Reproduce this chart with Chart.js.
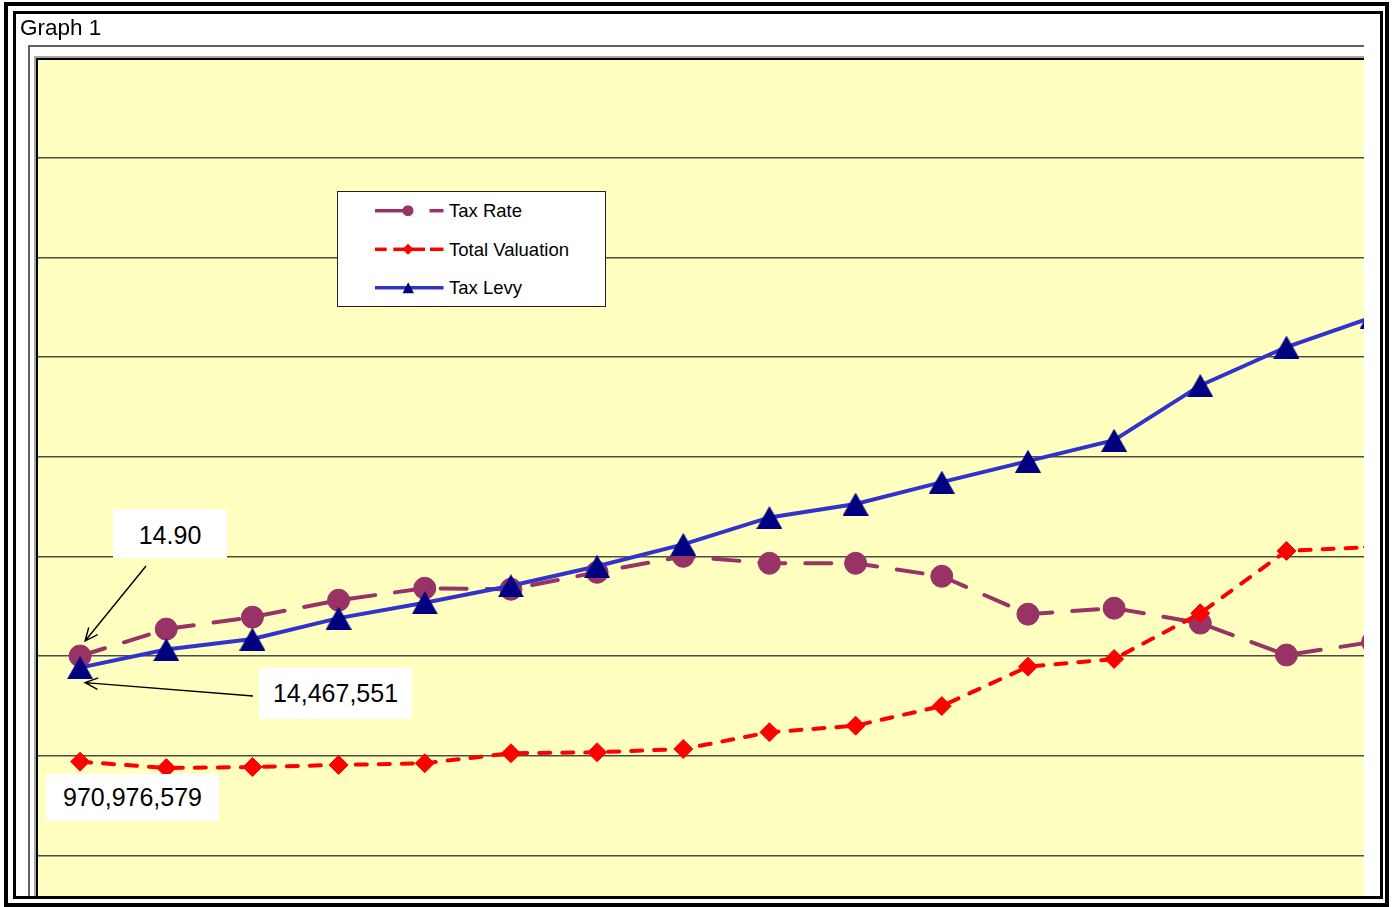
<!DOCTYPE html>
<html>
<head>
<meta charset="utf-8">
<title>Graph 1</title>
<script src="https://cdn.jsdelivr.net/npm/chart.js@4.4.0/dist/chart.umd.min.js"></script>
<style>
    body { margin: 0; background: #fff; font-family: "Liberation Sans", Arial, sans-serif; color: #000; }
    .abs { position: absolute; box-sizing: border-box; }
    #marcoExterior { left: 4px; top: 2px; width: 1385px; height: 905px; border: 4px solid #000; }
    #marcoInterior { left: 13px; top: 11px; width: 1370px; height: 888px; border: 3px solid #000; }
    #titulo { left: 20px; top: 17px; font-size: 22.5px; line-height: 1; white-space: nowrap; }
    #bordeGrafico { left: 28px; top: 45px; width: 1336px; height: 853px; border-top: 2px solid #606060; border-left: 2px solid #606060; }
    #halo { left: 34px; top: 56px; width: 1330px; height: 842px; border-top: 2px solid #a8a8a8; border-left: 2px solid #a8a8a8; }
    #areaTrazado { left: 36px; top: 58px; width: 1328px; height: 839px; overflow: hidden; background: #FFFFC0; }
    #contenedor { position: absolute; left: 1px; top: 0; width: 1327px; height: 897px; }
    #bordeSup { left: 36px; top: 58px; width: 1328px; height: 2px; background: #000; }
    #bordeIzq { left: 36px; top: 58px; width: 2px; height: 839px; background: #000; }
    .etiqueta { background: #fff; font-size: 25px; text-align: center; white-space: nowrap; }
    #leyenda { left: 337px; top: 191px; width: 269px; height: 116px; border: 1px solid #222; background: #fff; }
    #leyenda svg { position: absolute; left: 0; top: 0; }
    .textoLeyenda { font-size: 18.5px; line-height: 1; white-space: nowrap; }
</style>
</head>
<body>

<div id="bordeGrafico" class="abs"></div>
<div id="halo" class="abs"></div>
<div id="areaTrazado" class="abs">
    <div id="contenedor"><canvas id="grafico1" width="1327" height="897"></canvas></div>
</div>
<div id="bordeSup" class="abs"></div>
<div id="bordeIzq" class="abs"></div>

<div id="leyenda" class="abs">
    <svg width="267" height="114">
        <line x1="37" y1="18.7" x2="70" y2="18.7" stroke="#993366" stroke-width="3.5"/>
        <circle cx="70" cy="18.7" r="5.5" fill="#993366"/>
        <line x1="91.5" y1="18.7" x2="105.5" y2="18.7" stroke="#993366" stroke-width="3.5"/>
        <line x1="37" y1="57.3" x2="48.7" y2="57.3" stroke="#FF0000" stroke-width="3.5"/>
        <line x1="55.3" y1="57.3" x2="87" y2="57.3" stroke="#FF0000" stroke-width="3.5"/>
        <line x1="92" y1="57.3" x2="105.5" y2="57.3" stroke="#FF0000" stroke-width="3.5"/>
        <polygon points="64.5,57.3 70,51.8 75.5,57.3 70,62.8" fill="#FF0000"/>
        <line x1="37" y1="95.7" x2="105.5" y2="95.7" stroke="#3333CC" stroke-width="3.5"/>
        <polygon points="64.5,101.3 76,101.3 70.2,90.3" fill="#000080"/>
    </svg>
</div>
<div id="serie0" class="abs textoLeyenda" style="left:449px; top:201.5px;"></div>
<div id="serie1" class="abs textoLeyenda" style="left:449px; top:240.5px;"></div>
<div id="serie2" class="abs textoLeyenda" style="left:449px; top:279px;"></div>

<div id="etiquetaTasa" class="abs etiqueta" style="left:113px; top:509px; width:114px; height:49px; line-height:52px;"></div>
<div id="etiquetaRecaudacion" class="abs etiqueta" style="left:259px; top:668px; width:153px; height:51px; line-height:51px;"></div>
<div id="etiquetaValuacion" class="abs etiqueta" style="left:46px; top:774px; width:173px; height:47px; line-height:47px;"></div>

<div id="marcoInterior" class="abs"></div>
<div id="marcoExterior" class="abs"></div>
<div id="titulo" class="abs">Graph 1</div>

<script>
//DATOS DEL GRÁFICO: POSICIÓN DE CADA PERIODO Y VALORES DE LAS TRES SERIES.
const periodos = [0, 1, 2, 3, 4, 5, 6, 7, 8, 9, 10, 11, 12, 13, 14, 15];
const tasaImpuesto = [14.90, 15.17, 15.29, 15.46, 15.58, 15.57, 15.74, 15.90, 15.83, 15.83, 15.70, 15.32, 15.38, 15.23, 14.91, 15.04];
const valuacionTotal = [970976579, 964600000, 965600000, 967700000, 969400000, 979400000, 980400000, 983700000,
                        1000500000, 1007100000, 1026800000, 1066300000, 1074000000, 1119900000, 1182400000, 1186400000];
const recaudacion = [14467551, 14830000, 15040000, 15460000, 15770000, 16110000, 16500000, 16940000,
                     17480000, 17750000, 18190000, 18610000, 19030000, 20130000, 20900000, 21500000];
const nombresSeries = ['Tax Rate', 'Total Valuation', 'Tax Levy'];

//RANGOS DE LOS EJES (OCULTOS) DE CADA SERIE Y DE LA CUADRÍCULA.
const rangoX = [-0.5, 14.9];
const rangoTasa = [11.9, 20.9];
const rangoValuacion = [777000000, 1677000000];
const rangoRecaudacion = [8700000, 26700000];
const rangoCuadricula = [0, 9];


//FUNCIÓN PARA ARMAR LOS PUNTOS {x, y} DE UNA SERIE.
function armarPuntos(valores) {
    return valores.map((v, i) => ({ x: periodos[i], y: v }));
}


//FUNCIÓN PARA CREAR EL MARCADOR TRIANGULAR (CENTRADO EN SU CAJA, COMO EN EXCEL).
function crearTriangulo(ancho, alto, color) {
    const c = document.createElement('canvas');
    c.width = ancho;
    c.height = alto;
    const g = c.getContext('2d');
    g.fillStyle = color;
    g.beginPath();
    g.moveTo(ancho / 2, 0);
    g.lineTo(ancho, alto);
    g.lineTo(0, alto);
    g.closePath();
    g.fill();
    return c;
}


//FUNCIÓN PARA DIBUJAR UNA FLECHA DE LÍNEA CON PUNTA ABIERTA.
function dibujarFlecha(ctx, x0, y0, x1, y1) {
    const ang = Math.atan2(y1 - y0, x1 - x0);
    const largo = 14;
    const abertura = 0.42;
    ctx.save();
    ctx.strokeStyle = '#000';
    ctx.lineWidth = 1.4;
    ctx.beginPath();
    ctx.moveTo(x0, y0);
    ctx.lineTo(x1, y1);
    ctx.moveTo(x1 - largo * Math.cos(ang - abertura), y1 - largo * Math.sin(ang - abertura));
    ctx.lineTo(x1, y1);
    ctx.lineTo(x1 - largo * Math.cos(ang + abertura), y1 - largo * Math.sin(ang + abertura));
    ctx.stroke();
    ctx.restore();
}


//FLECHAS DE LAS ETIQUETAS: COLA FIJA JUNTO A LA CAJA, PUNTA ANCLADA AL PRIMER PUNTO DE LA SERIE.
const flechas = [
    { serie: 0, cola: [109, 508], desfase: [5, -15] },
    { serie: 2, cola: [216, 638], desfase: [5, 15] }
];

const pluginFlechas = {
    id: 'flechas',
    afterDatasetsDraw(chart) {
        flechas.forEach(f => {
            const p = chart.getDatasetMeta(f.serie).data[0];
            dibujarFlecha(chart.ctx, f.cola[0], f.cola[1], p.x + f.desfase[0], p.y + f.desfase[1]);
        });
    }
};


//SE GENERA EL GRÁFICO.
function generarGrafico() {
    const ctx = document.getElementById('grafico1');
    const config = {
        type: 'line',
        data: {
            datasets: [{
                label: nombresSeries[0],
                data: armarPuntos(tasaImpuesto),
                yAxisID: 'yTasa',
                order: 3,
                borderColor: '#993366',
                borderWidth: 4,
                borderDash: [26, 20],
                borderCapStyle: 'round',
                pointStyle: 'circle',
                pointRadius: 11,
                pointBorderWidth: 1,
                pointBackgroundColor: '#993366',
                pointBorderColor: '#993366',
                tension: 0
            }, {
                label: nombresSeries[1],
                data: armarPuntos(valuacionTotal),
                yAxisID: 'yValuacion',
                order: 2,
                borderColor: '#FF0000',
                borderWidth: 4,
                borderDash: [11, 12],
                borderCapStyle: 'round',
                pointStyle: 'rectRot',
                pointRadius: 9.5,
                pointBorderWidth: 1,
                pointBackgroundColor: '#FF0000',
                pointBorderColor: '#FF0000',
                tension: 0
            }, {
                label: nombresSeries[2],
                data: armarPuntos(recaudacion),
                yAxisID: 'yRecaudacion',
                order: 1,
                borderColor: '#3333CC',
                borderWidth: 4,
                pointStyle: crearTriangulo(26, 23, '#000080'),
                pointRadius: 13,
                pointBorderWidth: 0,
                tension: 0
            }]
        },
        options: {
            responsive: false,
            animation: false,
            events: [],
            layout: { autoPadding: false, padding: 0 },
            plugins: {
                legend: { display: false },
                tooltip: { enabled: false }
            },
            scales: {
                x: { type: 'linear', display: false, min: rangoX[0], max: rangoX[1] },
                y: {
                    display: true,
                    min: rangoCuadricula[0],
                    max: rangoCuadricula[1],
                    ticks: { display: false, stepSize: 1 },
                    grid: { color: '#4d4d40', lineWidth: 1.5, drawTicks: false },
                    border: { display: false }
                },
                yTasa: { display: false, min: rangoTasa[0], max: rangoTasa[1] },
                yValuacion: { display: false, min: rangoValuacion[0], max: rangoValuacion[1] },
                yRecaudacion: { display: false, min: rangoRecaudacion[0], max: rangoRecaudacion[1] }
            }
        },
        plugins: [pluginFlechas]
    };
    const grafico1 = new Chart(ctx, config);
}


//TEXTOS DE LA LEYENDA Y DE LAS ETIQUETAS DE DATOS (PRIMER VALOR DE CADA SERIE).
nombresSeries.forEach((n, i) => {
    document.getElementById('serie' + i).textContent = n;
});
document.getElementById('etiquetaTasa').textContent = tasaImpuesto[0].toFixed(2);
document.getElementById('etiquetaRecaudacion').textContent = recaudacion[0].toLocaleString('en-US');
document.getElementById('etiquetaValuacion').textContent = valuacionTotal[0].toLocaleString('en-US');

generarGrafico();
</script>
</body>
</html>
